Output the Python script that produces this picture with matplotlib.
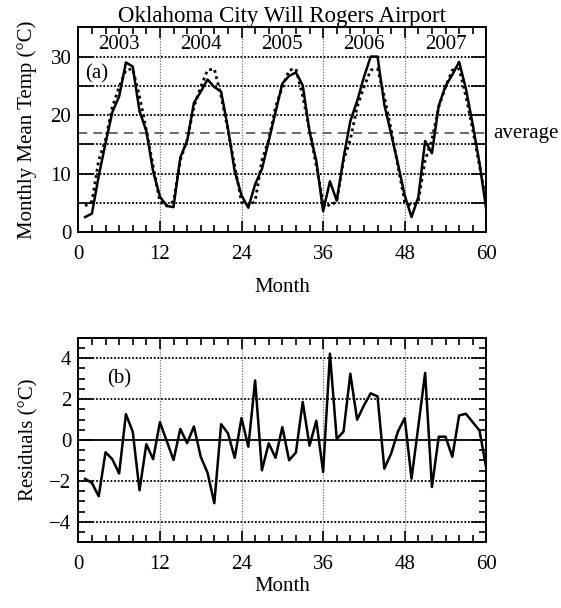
import numpy as np
import matplotlib
matplotlib.use("Agg")
import matplotlib.pyplot as plt
from matplotlib.ticker import MultipleLocator, FuncFormatter

matplotlib.rcParams.update({
    "font.family": "serif",
    "font.serif": ["Liberation Serif", "DejaVu Serif"],
    "font.size": 15,
    "axes.linewidth": 1.4,
    "xtick.direction": "in",
    "ytick.direction": "in",
    "axes.unicode_minus": True,
})

# monthly mean temperature, Jan 2003 - Dec 2007 (deg C)
months = np.arange(1, 61)
observed = [
    2.6, 3.2, 9.6, 15.2, 20.5, 23.2, 29.0, 28.3, 20.7, 17.3, 10.4, 6.1,
    4.5, 4.3, 12.8, 15.6, 22.1, 24.0, 26.1, 24.8, 24.0, 17.8, 10.4, 6.3,
    4.2, 8.2, 10.8, 15.6, 20.5, 25.4, 26.7, 27.3, 25.1, 17.2, 12.2, 3.6,
    8.7, 5.4, 12.7, 19.0, 22.4, 26.5, 30.0, 30.0, 21.8, 16.8, 11.7, 6.3,
    2.6, 6.0, 15.6, 13.5, 21.6, 25.0, 26.9, 29.1, 24.5, 18.4, 11.8, 3.8,
]
# 5-year mean for each calendar month (dotted curve)
monthly_mean = [
    4.5, 5.3, 12.3, 15.8, 21.4, 24.8, 27.7, 27.9, 23.2, 17.5, 11.3, 5.2,
    4.5, 5.3, 12.3, 15.8, 21.4, 24.8, 27.7, 27.9, 23.2, 17.5, 11.3, 5.2,
    4.5, 5.3, 12.3, 15.8, 21.4, 24.8, 27.7, 27.9, 23.2, 17.5, 11.3, 5.2,
    4.5, 5.3, 12.3, 15.8, 21.4, 24.8, 27.7, 27.9, 23.2, 17.5, 11.3, 5.2,
    4.5, 5.3, 12.3, 15.8, 21.4, 24.8, 27.7, 27.9, 23.2, 17.5, 11.3, 5.2,
]
residuals = [
    -1.9, -2.1, -2.75, -0.6, -0.94, -1.64, 1.26, 0.41, -2.46, -0.21, -0.94, 0.87,
    -0.05, -0.98, 0.54, -0.16, 0.66, -0.82, -1.6, -3.09, 0.77, 0.33, -0.87, 1.07,
    -0.33, 2.91, -1.48, -0.16, -0.87, 0.63, -0.99, -0.61, 1.86, -0.28, 0.94, -1.56,
    4.22, 0.05, 0.41, 3.24, 0.99, 1.69, 2.28, 2.13, -1.4, -0.66, 0.41, 1.07,
    -1.89, 0.67, 3.28, -2.3, 0.16, 0.16, -0.82, 1.2, 1.28, 0.87, 0.46, -1.4,
]
overall_average = 16.9
years = ["2003", "2004", "2005", "2006", "2007"]
year_centers = [6, 18, 30, 42, 54]
year_bounds = [12, 24, 36, 48]

fig = plt.figure(figsize=(5.61, 6.08), dpi=100)
ax1 = fig.add_axes([0.1396, 0.6179, 0.7273, 0.3372])
ax2 = fig.add_axes([0.1396, 0.1081, 0.7273, 0.3365])

# (a) temperature
for yv in range(5, 35, 5):
    ax1.axhline(yv, color="black", linestyle=(0, (1, 1)), linewidth=1.3, zorder=1)
for xb in year_bounds:
    ax1.axvline(xb, color="0.45", linestyle=(0, (1, 1.2)), linewidth=0.9, zorder=1)
ax1.axhline(overall_average, color="0.25", linestyle=(0, (6, 4)), linewidth=1.1, zorder=1)
ax1.plot(months, monthly_mean, color="black", linestyle=(0, (1, 1.3)), linewidth=2.0, zorder=2)
ax1.plot(months, observed, color="black", linewidth=1.8, zorder=3)

ax1.set_xlim(0, 60)
ax1.set_ylim(0, 35)
ax1.xaxis.set_major_locator(MultipleLocator(12))
ax1.xaxis.set_minor_locator(MultipleLocator(2))
ax1.yaxis.set_major_locator(MultipleLocator(5))
ax1.yaxis.set_major_formatter(FuncFormatter(lambda v, p: f"{v:.0f}" if v % 10 == 0 else ""))
ax1.tick_params(which="both", top=True, right=True, width=1.2)
ax1.tick_params(which="major", axis="y", length=11, pad=5)
ax1.tick_params(which="major", axis="x", length=8, pad=9)
ax1.tick_params(which="minor", length=5)
for name, xc in zip(years, year_centers):
    ax1.text(xc, 32.1, name, ha="center", va="center", fontsize=15)
ax1.text(1.0, 27.0, "(a)", ha="left", va="center", fontsize=15)
ax1.text(61.0, overall_average, "average", ha="left", va="center", fontsize=15, clip_on=False)
ax1.set_title("Oklahoma City Will Rogers Airport", fontsize=16.5, pad=2)
ax1.set_xlabel("Month", fontsize=15, labelpad=10)
ax1.set_ylabel("Monthly Mean Temp (\u00b0C)", fontsize=15, labelpad=10)

# (b) residuals
for yv in [-4, -2, 2, 4]:
    ax2.axhline(yv, color="black", linestyle=(0, (1, 1)), linewidth=1.3, zorder=1)
for xb in year_bounds:
    ax2.axvline(xb, color="0.45", linestyle=(0, (1, 1.2)), linewidth=0.9, zorder=1)
ax2.axhline(0, color="black", linewidth=1.3, zorder=1)
ax2.plot(months, residuals, color="black", linewidth=1.8, zorder=3)

ax2.set_xlim(0, 60)
ax2.set_ylim(-5, 5)
ax2.xaxis.set_major_locator(MultipleLocator(12))
ax2.xaxis.set_minor_locator(MultipleLocator(2))
ax2.yaxis.set_major_locator(MultipleLocator(2))
ax2.yaxis.set_minor_locator(MultipleLocator(0.5))
ax2.tick_params(which="both", top=True, right=True, width=1.2)
ax2.tick_params(which="major", axis="y", length=11, pad=5)
ax2.tick_params(which="major", axis="x", length=8, pad=9)
ax2.tick_params(which="minor", length=5)
ax2.text(4.2, 3.0, "(b)", ha="left", va="center", fontsize=15)
ax2.set_xlabel("Month", fontsize=15, labelpad=2)
ax2.set_ylabel("Residuals (\u00b0C)", fontsize=15, labelpad=8)

fig.savefig("out.png", dpi=100, facecolor="white")
